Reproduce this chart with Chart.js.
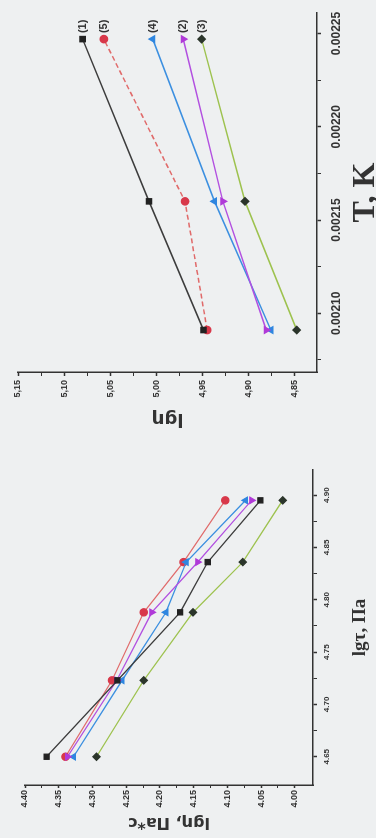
<!DOCTYPE html>
<html>
<head>
<meta charset="utf-8">
<script src="https://cdn.jsdelivr.net/npm/chart.js@4.4.1/dist/chart.umd.min.js"></script>
<style>
  html, body { margin: 0; padding: 0; background: #eef0f1; overflow: hidden; }
  /* the scanned page lies on its side, so the whole sheet is turned 90deg */
  #page { position: absolute; left: 0; top: 0; width: 838px; height: 376px;
          transform-origin: 0 0; transform: translateY(838px) rotate(-90deg); }
  #leftChart { position: absolute; left: 0; top: 0; }
  #rightChart { position: absolute; left: 400px; top: 0; }
</style>
</head>
<body>
<div id="page">
  <canvas id="leftChart" width="400" height="376"></canvas>
  <canvas id="rightChart" width="438" height="376"></canvas>
</div>
<script>
// left chart: lg(eta) vs lg(tau)
const lgTau = [4.65, 4.723, 4.788, 4.836, 4.895];
const tau1 = [4.368, 4.263, 4.170, 4.129, 4.051];
const tau2 = [4.337, 4.264, 4.212, 4.144, 4.064];
const tau3 = [4.294, 4.224, 4.151, 4.077, 4.018];
const tau4 = [4.328, 4.256, 4.191, 4.161, 4.073];
const tau5 = [4.340, 4.271, 4.224, 4.165, 4.103];
const tauTicks = [4.65, 4.70, 4.75, 4.80, 4.85, 4.90];
const etaTicksL = [4.00, 4.05, 4.10, 4.15, 4.20, 4.25, 4.30, 4.35, 4.40];

// right chart: lg(eta) vs 1/T
const invT = [0.002091, 0.00216, 0.002247];
const temp1 = [4.949, 5.008, 5.080];
const temp2 = [4.881, 4.928, 4.971];
const temp3 = [4.848, 4.904, 4.951];
const temp4 = [4.876, 4.937, 5.004];
const temp5 = [4.945, 4.969, 5.057];
const tTicks = [0.00210, 0.00215, 0.00220, 0.00225];
const etaTicksR = [4.85, 4.90, 4.95, 5.00, 5.05, 5.10, 5.15];

Chart.defaults.font.family = '"Liberation Sans", Arial, sans-serif';
Chart.defaults.color = '#333';

const series = [
  { name: '(1)', line: '#3c3c3c', fill: '#222', style: 'rect', rot: 0 },
  { name: '(2)', line: '#b24fe0', fill: '#b03ad8', style: 'triangle', rot: 180 },
  { name: '(3)', line: '#9dc24e', fill: '#2b352b', style: 'rectRot', rot: 0 },
  { name: '(4)', line: '#3b8fe0', fill: '#2f86e0', style: 'triangle', rot: 0 },
  { name: '(5)', line: '#e06a6a', fill: '#d8384a', style: 'circle', rot: 0 }
];

// majors plus a minor tick half way between each pair (and one before the first)
function withMinor(major, extraBefore) {
  const out = [];
  const half = (major[1] - major[0]) / 2;
  if (extraBefore) out.push(major[0] - half);
  major.forEach((v, i) => {
    out.push(v);
    if (i < major.length - 1) out.push(v + half);
  });
  return out;
}
function isMajor(v, major) {
  return major.some(m => Math.abs(m - v) < 1e-9);
}

function axis(opts) {
  return {
    type: 'linear',
    min: opts.min,
    max: opts.max,
    afterBuildTicks: s => { s.ticks = withMinor(opts.major, opts.extraBefore).map(v => ({ value: v })); },
    afterFit: s => { if (opts.height) s.height = opts.height; if (opts.width) s.width = opts.width; },
    grid: { drawOnChartArea: false, tickLength: opts.tickLength, tickColor: '#333',
            tickWidth: c => (c.tick && isMajor(c.tick.value, opts.major)) ? 1.5 : 1 },
    border: { color: '#333', width: 1.5 },
    ticks: {
      autoSkip: false, maxRotation: 0, padding: opts.padding, color: '#333',
      font: { size: opts.fontSize, weight: 'bold' },
      callback: v => isMajor(v, opts.major) ? opts.fmt(v) : ''
    },
    title: opts.title
  };
}

function makeSets(xs, ys, width, dashes) {
  return ys.map((arr, i) => ({
    label: series[i].name,
    data: xs.map((x, j) => ({ x: x, y: arr[j] })),
    borderColor: series[i].line,
    borderWidth: width,
    borderDash: dashes[i] || [],
    backgroundColor: series[i].fill,
    pointBackgroundColor: series[i].fill,
    pointBorderColor: series[i].fill,
    pointStyle: series[i].style,
    pointRotation: series[i].rot,
    pointRadius: 3.6,
    tension: 0
  }));
}

const common = {
  responsive: false,
  animation: false,
  plugins: { legend: { display: false }, tooltip: { enabled: false } }
};

new Chart(document.getElementById('leftChart'), {
  type: 'line',
  data: { datasets: makeSets(lgTau, [tau1, tau2, tau3, tau4, tau5], 1.3, []) },
  options: Object.assign({}, common, {
    layout: { padding: { left: 0, right: 32, top: 25, bottom: 0 } },
    scales: {
      x: axis({
        min: 4.623, max: 4.924, major: tauTicks, height: 63, tickLength: 4, padding: 5,
        fontSize: 8, fmt: v => v.toFixed(2),
        title: { display: true, text: 'lgτ, Па', color: '#333',
                 font: { family: '"Liberation Serif", "Times New Roman", serif', size: 19, weight: 'bold' },
                 padding: { top: 0, bottom: 5 } }
      }),
      y: axis({
        min: 3.973, max: 4.40, major: etaTicksL, width: 53, tickLength: 3, padding: 2,
        fontSize: 9, fmt: v => v.toFixed(2),
        title: { display: true, text: 'lgη, Па*с', color: '#333',
                 font: { family: '"DejaVu Sans", sans-serif', size: 16, weight: 'bold' },
                 padding: { top: 6, bottom: 0 } }
      })
    }
  })
});

// series number written next to the last point of each line
const endLabels = {
  id: 'endLabels',
  afterDatasetsDraw(chart) {
    const ctx = chart.ctx;
    ctx.save();
    ctx.font = 'bold 11px "Liberation Sans", Arial, sans-serif';
    ctx.fillStyle = '#333';
    ctx.textAlign = 'left';
    ctx.textBaseline = 'middle';
    chart.data.datasets.forEach((ds, i) => {
      const pts = chart.getDatasetMeta(i).data;
      const p = pts[pts.length - 1];
      ctx.fillText(ds.label, p.x + 6, p.y);
    });
    ctx.restore();
  }
};

new Chart(document.getElementById('rightChart'), {
  type: 'line',
  data: { datasets: makeSets(invT, [temp1, temp2, temp3, temp4, temp5], 1.5, [[], [], [], [], [5, 3]]) },
  options: Object.assign({}, common, {
    layout: { padding: { left: 0, right: 13, top: 18, bottom: 0 } },
    scales: {
      x: axis({
        min: 0.0020685, max: 0.002261, major: tTicks, extraBefore: true, height: 59, tickLength: 4, padding: 8,
        fontSize: 12, fmt: v => v.toFixed(5),
        title: { display: true, text: 'T, K', color: '#333',
                 font: { family: '"Liberation Serif", "Times New Roman", serif', size: 32, weight: 'bold' },
                 padding: { top: 0, bottom: -9 } }
      }),
      y: axis({
        min: 4.826, max: 5.15, major: etaTicksR, width: 66, tickLength: 4, padding: 4,
        fontSize: 9, fmt: v => v.toFixed(2).replace('.', ','),
        title: { display: true, text: 'lgη', color: '#333',
                 font: { family: '"DejaVu Sans", sans-serif', size: 18, weight: 'bold' },
                 padding: { top: 9, bottom: 0 } }
      })
    }
  }),
  plugins: [endLabels]
});
</script>
</body>
</html>
